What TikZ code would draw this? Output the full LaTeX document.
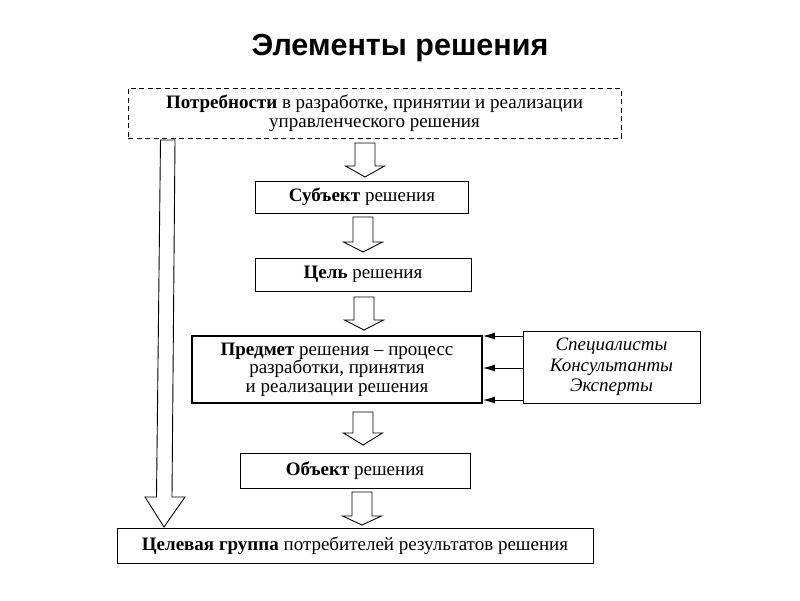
\documentclass[tikz,border=0pt]{standalone}
\usepackage{fontspec}
\setmainfont{Liberation Serif}
\newfontfamily\titlefont{Liberation Sans}
\usetikzlibrary{arrows.meta}
\newcommand\hollowdown[4]{% center x, top y, head start y, tip y
  \draw[harrow] (#1-10,#2) -- (#1+10,#2) -- (#1+10,#3) -- (#1+19.5,#3) -- (#1,#4)
    -- (#1-19.5,#3) -- (#1-10,#3) -- cycle;}
\begin{document}
\begin{tikzpicture}[x=1pt,y=-1pt,
  box/.style={draw, line width=0.9pt, inner sep=0pt, align=center,
    font=\fontsize{19}{18.5}\selectfont},
  harrow/.style={draw, line width=0.9pt, fill=white, line join=miter},
  feed/.style={draw, line width=1pt, -{Latex[length=12pt,width=7pt]}}]
\useasboundingbox[fill=white] (0,0) rectangle (800,600);
\node[font=\titlefont\bfseries\fontsize{30.5}{32}\selectfont] (title) at (400,48) {Элементы решения};
\node[box, dashed, dash pattern=on 5pt off 3.5pt, minimum width=493, minimum height=50] (need) at (374.5,113)
  {\textbf{Потребности} в разработке, принятии и реализации\\управленческого решения};
\node[box, minimum width=213, minimum height=32] (subj) at (362,197) {\textbf{Субъект} решения};
\node[box, minimum width=216, minimum height=33] (goal) at (363,274.5) {\textbf{Цель} решения};
\node[box, line width=1.8pt, minimum width=290, minimum height=67] (pred) at (337,369.5)
  {\textbf{Предмет} решения -- процесс\\разработки, принятия\\и реализации решения};
\node[box, font=\fontsize{19}{20.5}\selectfont, minimum width=177, minimum height=72] (spec) at (611.5,367)
  {\itshape Специалисты\\\itshape Консультанты\\\itshape Эксперты};
\node[box, minimum width=230, minimum height=35] (obj) at (355,470.5) {\textbf{Объект} решения};
\node[box, minimum width=476, minimum height=35] (target) at (355,545.5)
  {\textbf{Целевая группа} потребителей результатов решения};
% feeding arrows
\draw[feed] (spec.west |- 0,336) -- (pred.east |- 0,336);
\draw[feed] (spec.west |- 0,368) -- (pred.east |- 0,368);
\draw[feed] (spec.west |- 0,400) -- (pred.east |- 0,400);
% hollow arrows
\hollowdown{365}{143}{166}{177}
\hollowdown{363}{217}{242}{252}
\hollowdown{364}{297}{320}{330}
\hollowdown{363}{412}{433}{445}
\hollowdown{362}{492}{516}{525}
% long left arrow
\draw[harrow] (160.5,140) -- (175,140) -- (172,497) -- (185,497) -- (164,527)
  -- (145,497) -- (156.5,497) -- cycle;
\end{tikzpicture}
\end{document}
